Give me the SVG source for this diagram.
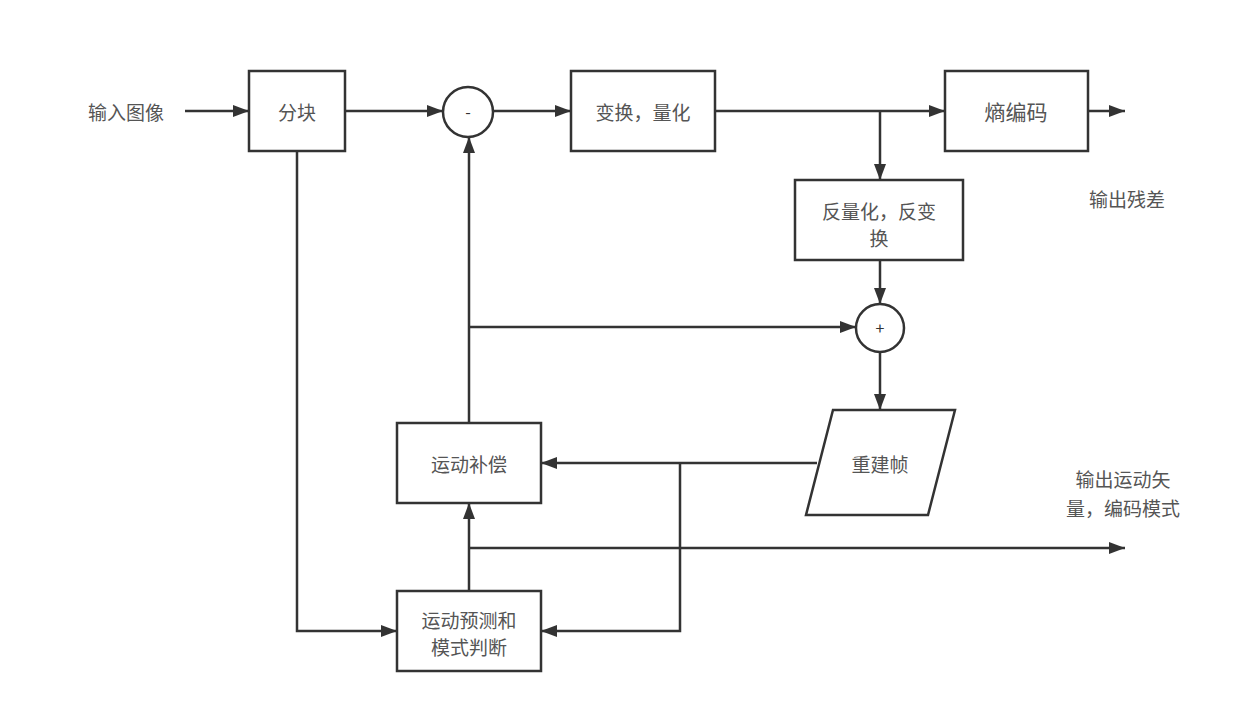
<svg xmlns="http://www.w3.org/2000/svg" width="1250" height="720" viewBox="0 0 1250 720">
  <defs>
    <marker id="arrow" viewBox="0 0 16 12" refX="16" refY="6" markerWidth="16" markerHeight="12" markerUnits="userSpaceOnUse" orient="auto">
      <path d="M0,0 L16,6 L0,12 z" fill="#333"/>
    </marker>
    <style>
      .box { fill: #fff; stroke: #333; stroke-width: 2.5; }
      .wire { fill: none; stroke: #333; stroke-width: 2.5; }
      .arr { marker-end: url(#arrow); }
      text { font-family: "Noto Sans CJK SC", "Liberation Sans", sans-serif; font-size: 19px; fill: #555; text-anchor: middle; dominant-baseline: central; }
      .sym { font-size: 16px; fill: #333; }
    </style>
  </defs>
  <rect width="1250" height="720" fill="#fff"/>

  <g id="connectors">
    <path class="wire arr" d="M185,111 H249"/>
    <path class="wire arr" d="M345,111 H443"/>
    <path class="wire arr" d="M493,111 H571"/>
    <path class="wire arr" d="M715,111 H945"/>
    <path class="wire arr" d="M1088,111 H1125"/>
    <path class="wire arr" d="M880,111 V180"/>
    <path class="wire arr" d="M880,260 V304"/>
    <path class="wire arr" d="M880,352 V410"/>
    <path class="wire arr" d="M469,423 V137"/>
    <path class="wire arr" d="M469,327 H856"/>
    <path class="wire arr" d="M817,463 H541"/>
    <path class="wire arr" d="M680,463 V631 H541"/>
    <path class="wire arr" d="M469,591 V503"/>
    <path class="wire arr" d="M469,548 H1125"/>
    <path class="wire arr" d="M297,151 V631 H397"/>
  </g>

  <g id="input-label">
    <text x="126" y="111">输入图像</text>
  </g>
  <g id="block-split">
    <rect class="box" x="249" y="71" width="96" height="80"/>
    <text x="297" y="111">分块</text>
  </g>
  <g id="subtract">
    <circle class="box" cx="468" cy="112" r="25"/>
    <text class="sym" x="468" y="111">-</text>
  </g>
  <g id="transform-quant">
    <rect class="box" x="571" y="71" width="144" height="80"/>
    <text x="643" y="111">变换，量化</text>
  </g>
  <g id="entropy-coding">
    <rect class="box" x="945" y="71" width="143" height="80"/>
    <text x="1016" y="111" style="font-size:21px">熵编码</text>
  </g>
  <g id="residual-label">
    <text x="1127" y="198">输出残差</text>
  </g>
  <g id="inverse-quant">
    <rect class="box" x="795" y="180" width="168" height="80"/>
    <text x="879" y="210">反量化，反变</text>
    <text x="879" y="237">换</text>
  </g>
  <g id="add">
    <circle class="box" cx="880" cy="328" r="24"/>
    <text class="sym" x="880" y="327">+</text>
  </g>
  <g id="recon-frame">
    <polygon class="box" points="833,410 955,410 928,515 806,515"/>
    <text x="880" y="463">重建帧</text>
  </g>
  <g id="motion-comp">
    <rect class="box" x="397" y="423" width="144" height="80"/>
    <text x="469" y="463">运动补偿</text>
  </g>
  <g id="motion-est">
    <rect class="box" x="397" y="591" width="144" height="80"/>
    <text x="469" y="619">运动预测和</text>
    <text x="469" y="646">模式判断</text>
  </g>
  <g id="mv-label">
    <text x="1123" y="478">输出运动矢</text>
    <text x="1123" y="507">量，编码模式</text>
  </g>
</svg>
